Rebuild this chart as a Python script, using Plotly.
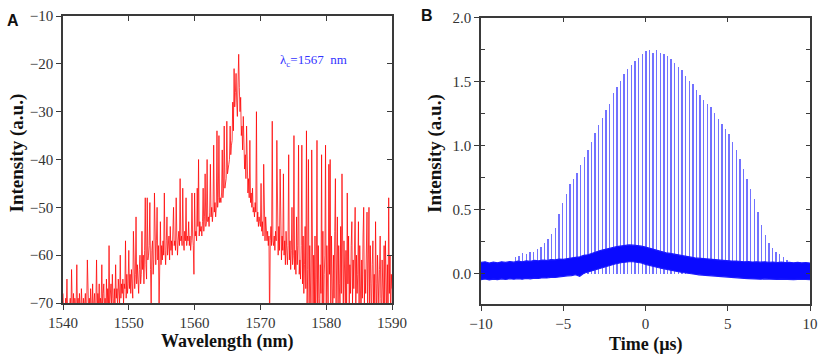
import plotly.graph_objects as go

# ---------------- Panel A : optical spectrum ----------------
wavelength_start_nm = 1540.0
wavelength_step_nm = 0.1
spectrum_dbm = [
    -68, -72, -70, -74, -69, -71, -65, -72, -70, -73,   # 1540
    -71, -69, -73, -63, -70, -72, -68, -74, -69, -71,   # 1541
    -70, -62, -72, -69, -75, -68, -71, -73, -67, -72,   # 1542
    -74, -69, -72, -70, -68, -73, -71, -61, -70, -72,   # 1543
    -69, -73, -67, -71, -74, -66, -72, -70, -68, -73,   # 1544
    -70, -61, -72, -68, -71, -66, -73, -69, -70, -62,   # 1545
    -71, -68, -66, -72, -69, -74, -65, -70, -67, -71,   # 1546
    -58, -70, -68, -66, -71, -64, -69, -72, -67, -70,   # 1547
    -62, -69, -67, -71, -65, -68, -70, -60, -69, -66,   # 1548
    -68, -65, -70, -66, -67, -57, -69, -64, -68, -66,   # 1549
    -59, -67, -64, -68, -63, -66, -69, -55, -65, -67,   # 1550
    -64, -52, -66, -62, -65, -68, -63, -60, -66, -64,   # 1551
    -55, -63, -60, -66, -59, -48, -62, -65, -48, -61,   # 1552
    -60, -58, -49, -63, -70, -59, -57, -64, -61, -47,   # 1553
    -59, -62, -57, -50, -61, -58, -72, -60, -53, -62,   # 1554
    -58, -61, -57, -60, -47, -59, -62, -57, -52, -60,   # 1555
    -58, -56, -61, -54, -59, -57, -60, -55, -50, -58,   # 1556
    -57, -59, -48, -56, -60, -57, -55, -58, -44, -57,   # 1557
    -56, -58, -46, -57, -59, -55, -57, -48, -58, -56,   # 1558
    -57, -53, -58, -56, -59, -57, -47, -56, -58, -64,   # 1559
    -47, -56, -55, -57, -46, -54, -40, -56, -53, -55,   # 1560
    -54, -56, -53, -46, -55, -52, -43, -54, -53, -40,   # 1561
    -53, -52, -54, -51, -41, -52, -50, -53, -51, -37,   # 1562
    -51, -49, -52, -50, -34, -50, -48, -35, -49, -48,   # 1563
    -49, -47, -38, -48, -46, -33, -46, -45, -44, -32,   # 1564
    -43, -42, -41, -40, -33, -39, -37, -36, -28, -34,   # 1565
    -21, -29, -26, -22, -28, -31, -24, -18, -25, -30,   # 1566
    -27, -35, -33, -38, -31, -40, -42, -39, -44, -33,   # 1567
    -45, -47, -44, -48, -36, -49, -47, -50, -46, -51,   # 1568
    -50, -52, -49, -51, -30, -53, -51, -54, -52, -53,   # 1569
    -54, -45, -55, -53, -56, -41, -55, -57, -52, -56,   # 1570
    -57, -55, -58, -56, -75, -57, -54, -58, -32, -57,   # 1571
    -58, -56, -59, -55, -57, -36, -58, -60, -54, -59,   # 1572
    -42, -58, -61, -56, -59, -43, -60, -57, -62, -55,   # 1573
    -60, -62, -58, -39, -61, -57, -63, -59, -50, -62,   # 1574
    -60, -35, -63, -59, -64, -52, -62, -58, -37, -64,   # 1575
    -61, -65, -58, -37, -66, -56, -68, -62, -54, -67,   # 1576
    -34, -70, -63, -40, -72, -58, -66, -74, -38, -68,   # 1577
    -73, -60, -70, -56, -75, -65, -36, -72, -58, -69,   # 1578
    -74, -62, -68, -39, -71, -55, -76, -64, -60, -37,   # 1579
    -72, -58, -66, -73, -41, -64, -40, -70, -56, -68,   # 1580
    -75, -60, -69, -55, -44, -71, -62, -52, -74, -58,   # 1581
    -66, -72, -54, -68, -43, -61, -73, -57, -65, -70,   # 1582
    -59, -74, -47, -66, -56, -71, -62, -68, -58, -53,   # 1583
    -70, -61, -67, -57, -50, -73, -60, -68, -64, -53,   # 1584
    -72, -58, -66, -75, -61, -69, -56, -50, -70, -63,   # 1585
    -68, -60, -51, -73, -62, -50, -71, -58, -66, -74,   # 1586
    -62, -57, -70, -64, -72, -53, -66, -74, -60, -68,   # 1587
    -71, -63, -56, -69, -75, -61, -67, -72, -58, -70,   # 1588
    -57, -66, -73, -62, -70, -48, -68, -60, -74, -64,   # 1589
    -67,                                                # 1590
]
wavelength_ticks = [1540, 1550, 1560, 1570, 1580, 1590]
intensity_a_ticks = [-70, -60, -50, -40, -30, -20, -10]

# ---------------- Panel B : pulse train ----------------
pulse_first_time_us = -7.9
pulse_period_us = 0.22
pulse_peak = [
    0.13, 0.14, 0.16, 0.15, 0.17, 0.17, 0.19, 0.21, 0.24, 0.27,
    0.31, 0.36, 0.47, 0.55, 0.62, 0.70, 0.74, 0.79, 0.85, 0.91,
    0.97, 1.03, 1.10, 1.16, 1.22, 1.28, 1.33, 1.41, 1.46, 1.51,
    1.56, 1.60, 1.63, 1.66, 1.69, 1.72, 1.74, 1.75, 1.73, 1.75,
    1.73, 1.72, 1.70, 1.68, 1.65, 1.62, 1.59, 1.55, 1.51, 1.48,
    1.44, 1.40, 1.36, 1.33, 1.30, 1.26, 1.21, 1.17, 1.13, 1.09,
    1.03, 0.97, 0.90, 0.82, 0.74, 0.66, 0.58, 0.48, 0.38, 0.30,
    0.24, 0.20, 0.17, 0.15, 0.13, 0.11,
]
band_start_us = -10.0
band_step_us = 0.25
baseline_top = [
    0.085, 0.090, 0.080, 0.088, 0.082, 0.090, 0.085, 0.092, 0.087, 0.095,
    0.090, 0.097, 0.093, 0.100, 0.098, 0.102, 0.100, 0.106, 0.104, 0.110,
    0.108, 0.115, 0.118, 0.125, 0.128, 0.140, 0.145, 0.158, 0.165, 0.178,
    0.185, 0.195, 0.200, 0.208, 0.212, 0.218, 0.222, 0.220, 0.218, 0.212,
    0.205, 0.195, 0.188, 0.178, 0.170, 0.160, 0.155, 0.148, 0.142, 0.135,
    0.130, 0.126, 0.120, 0.117, 0.112, 0.110, 0.105, 0.103, 0.100, 0.100,
    0.097, 0.095, 0.095, 0.092, 0.090, 0.092, 0.088, 0.090, 0.087, 0.090,
    0.085, 0.088, 0.084, 0.087, 0.083, 0.086, 0.082, 0.085, 0.081, 0.084,
    0.080,
]
baseline_bottom = [
    -0.050, -0.045, -0.052, -0.046, -0.050, -0.044, -0.049, -0.043, -0.047, -0.042,
    -0.046, -0.040, -0.044, -0.038, -0.041, -0.035, -0.037, -0.032, -0.033, -0.027,
    -0.025, -0.020, -0.018, -0.012, -0.024, 0.000, 0.010, 0.020, 0.030, 0.040,
    0.050, 0.060, 0.068, 0.076, 0.082, 0.087, 0.090, 0.090, 0.086, 0.080,
    0.070, 0.060, 0.052, 0.045, 0.038, 0.030, 0.024, 0.018, 0.012, 0.006,
    0.000, -0.004, -0.008, -0.012, -0.015, -0.018, -0.020, -0.024, -0.026, -0.028,
    -0.030, -0.033, -0.035, -0.038, -0.040, -0.042, -0.045, -0.043, -0.046, -0.044,
    -0.047, -0.045, -0.048, -0.046, -0.049, -0.047, -0.050, -0.048, -0.051, -0.049,
    -0.050,
]
time_ticks = [-10, -5, 0, 5, 10]
intensity_b_ticks = [0.0, 0.5, 1.0, 1.5, 2.0]
intensity_b_labels = ["0.0", "0.5", "1.0", "1.5", "2.0"]

# ---------------- figure ----------------
W, H = 829, 362
AX = "#3a3a3a"
TICKFONT = dict(family="Liberation Serif", size=15, color="#333333")
XTITLEFONT = dict(family="Liberation Serif", size=18, color="#111111")
YTITLEFONT = dict(family="Liberation Serif", size=19, color="#111111")

fig = go.Figure()

fig.add_trace(go.Scatter(
    x0=wavelength_start_nm, dx=wavelength_step_nm, y=spectrum_dbm,
    mode="lines", line=dict(color="rgba(255,0,0,0.75)", width=1),
    xaxis="x", yaxis="y", showlegend=False, hoverinfo="skip"))

fig.add_trace(go.Bar(
    x0=pulse_first_time_us, dx=pulse_period_us, y=pulse_peak,
    width=0.085, marker=dict(color="rgba(60,60,255,0.72)", line=dict(width=0)),
    xaxis="x2", yaxis="y2", showlegend=False, hoverinfo="skip"))

fig.add_trace(go.Scatter(
    x0=band_start_us, dx=band_step_us, y=baseline_bottom,
    mode="lines", line=dict(color="#1a1aff", width=1.2),
    xaxis="x2", yaxis="y2", showlegend=False, hoverinfo="skip"))
fig.add_trace(go.Scatter(
    x0=band_start_us, dx=band_step_us, y=baseline_top,
    mode="lines", line=dict(color="#1a1aff", width=1.2),
    fill="tonexty", fillcolor="#0a0aff",
    xaxis="x2", yaxis="y2", showlegend=False, hoverinfo="skip"))

# empty traces so the mirrored (top / right) frame axes get drawn
for xa, ya in (("x3", "y"), ("x", "y3"), ("x4", "y2"), ("x2", "y4")):
    fig.add_trace(go.Scatter(x=[None], y=[None], xaxis=xa, yaxis=ya, mode="lines",
                             showlegend=False, hoverinfo="skip"))

def px_x(p):
    return p / W

def px_y(p):
    return 1 - p / H

domA_x = [px_x(63), px_x(392)]
domA_y = [px_y(303), px_y(16)]
domB_x = [px_x(481), px_x(810)]
domB_y = [px_y(304.3), px_y(17.7)]

base_axis = dict(showgrid=False, zeroline=False, showline=True, linecolor=AX,
                 linewidth=1.5, tickcolor=AX, tickwidth=1.2, ticklen=5,
                 tickfont=TICKFONT, automargin=False)

fig.update_layout(
    width=W, height=H, margin=dict(l=0, r=0, t=0, b=0, autoexpand=False),
    paper_bgcolor="white", plot_bgcolor="white", bargap=0,
    xaxis=dict(base_axis, domain=domA_x, anchor="y", range=[1540, 1590],
               tickvals=wavelength_ticks, ticks="outside"),
    yaxis=dict(base_axis, domain=domA_y, anchor="x", range=[-70, -10],
               tickvals=intensity_a_ticks, ticks="outside"),
    xaxis3=dict(base_axis, overlaying="x", anchor="y", side="top",
                range=[1540, 1590], tickvals=wavelength_ticks, ticks="inside",
                showticklabels=False),
    yaxis3=dict(base_axis, overlaying="y", anchor="x", side="right",
                range=[-70, -10], tickvals=intensity_a_ticks, ticks="inside",
                showticklabels=False),
    xaxis2=dict(base_axis, domain=domB_x, anchor="y2", range=[-10, 10],
                tickvals=time_ticks, ticks="outside"),
    yaxis2=dict(base_axis, domain=domB_y, anchor="x2", range=[-0.243, 2.0],
                tickvals=intensity_b_ticks, ticktext=intensity_b_labels,
                ticks="outside",
                minor=dict(ticks="inside", dtick=0.25, tick0=0, ticklen=4,
                           tickcolor=AX, showgrid=False)),
    xaxis4=dict(base_axis, overlaying="x2", anchor="y2", side="top",
                range=[-10, 10], tickvals=time_ticks, ticks="inside",
                showticklabels=False),
    yaxis4=dict(base_axis, overlaying="y2", anchor="x2", side="right",
                range=[-0.243, 2.0], tick0=0, dtick=0.25, ticks="inside",
                ticklen=4, showticklabels=False),
)

annotations = [
    dict(text="<b>A</b>", x=px_x(13), y=px_y(20.5), font=dict(family="Liberation Sans", size=16, color="#111")),
    dict(text="<b>B</b>", x=px_x(427.5), y=px_y(15.5), font=dict(family="Liberation Sans", size=16, color="#111")),
    dict(text="<b>Wavelength (nm)</b>", x=px_x(227.5), y=px_y(341.5), font=XTITLEFONT),
    dict(text="<b>Time (µs)</b>", x=px_x(645.5), y=px_y(344), font=XTITLEFONT),
    dict(text="<b>Intensity (a.u.)</b>", x=px_x(16), y=px_y(153.5), textangle=-90, font=YTITLEFONT),
    dict(text="<b>Intensity (a.u.)</b>", x=px_x(435), y=px_y(154), textangle=-90, font=YTITLEFONT),
]
for a in annotations:
    a.update(xref="paper", yref="paper", showarrow=False, xanchor="center", yanchor="middle")
    fig.add_annotation(**a)

fig.add_annotation(text="λ<sub>c</sub>=1567  nm", x=1578.1, y=-19.4, xref="x", yref="y",
                   showarrow=False, xanchor="center", yanchor="middle",
                   font=dict(family="Liberation Serif", size=13, color="#3333ff"))

fig.write_html(
    "out.html",
    config={"displayModeBar": False},
    post_script="document.body.style.margin='0';document.body.style.overflow='hidden';",
)
